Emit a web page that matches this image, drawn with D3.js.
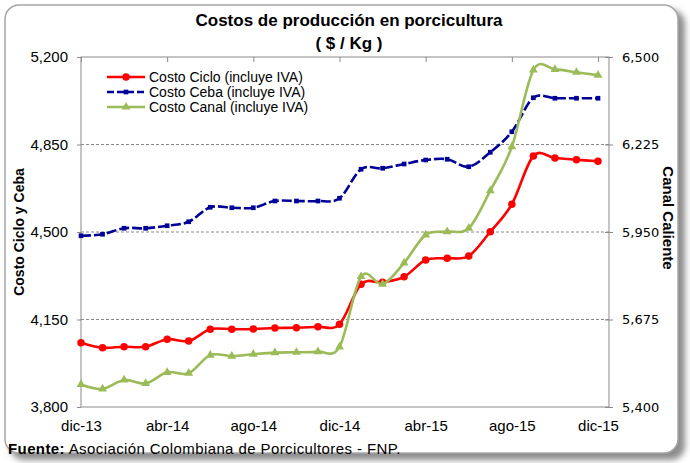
<!DOCTYPE html>
<html>
<head>
<meta charset="utf-8">
<script src="https://cdn.jsdelivr.net/npm/d3@7"></script>
<style>
  body { margin: 0; background: #fff; }
  svg { display: block; }
</style>
</head>
<body>
<svg id="chart" width="690" height="463"></svg>
<script>
// months, dic-13 .. dic-15
const meses = ["dic-13","ene-14","feb-14","mar-14","abr-14","may-14","jun-14","jul-14","ago-14","sep-14","oct-14","nov-14",
  "dic-14","ene-15","feb-15","mar-15","abr-15","may-15","jun-15","jul-15","ago-15","sep-15","oct-15","nov-15","dic-15"];
const etiquetas = ["dic-13","abr-14","ago-14","dic-14","abr-15","ago-15","dic-15"];

// left axis series
const costoCiclo = [4057,4037,4041,4041,4071,4064,4111,4111,4112,4116,4117,4121,
  4131,4291,4299,4321,4388,4395,4404,4501,4611,4804,4796,4789,4783];
const costoCeba = [4485,4491,4515,4515,4525,4541,4599,4597,4597,4624,4624,4624,
  4635,4751,4755,4772,4788,4791,4761,4819,4901,5037,5035,5035,5035];
// right axis series
const costoCanal = [5471,5457,5485,5474,5509,5506,5563,5560,5566,5571,5572,5574,
  5589,5810,5786,5853,5941,5951,5962,6080,6218,6459,6461,6452,6443];

const ticksIzq = [3800,4150,4500,4850,5200];
const ticksDer = [5400,5675,5950,6225,6500];

const svg = d3.select("#chart");

// frame with shadow
const defs = svg.append("defs");
const f = defs.append("filter").attr("id","sombra").attr("x","-10%").attr("y","-10%").attr("width","130%").attr("height","130%");
f.append("feGaussianBlur").attr("stdDeviation", 3);

svg.append("rect")
  .attr("x", 10).attr("y", 10).attr("width", 675).attr("height", 450)
  .attr("rx", 14).attr("fill", "#8c8c8c").attr("filter", "url(#sombra)");
svg.append("rect")
  .attr("x", 5).attr("y", 5).attr("width", 673).attr("height", 448)
  .attr("rx", 14).attr("fill", "#fff").attr("stroke", "#a6a6a6").attr("stroke-width", 1.5);

const plot = {left: 81, right: 609, top: 57, bottom: 407};

const x = d3.scalePoint().domain(meses).range([plot.left, 598]);
const yL = d3.scaleLinear().domain([3800, 5200]).range([plot.bottom, plot.top]);
const yR = d3.scaleLinear().domain([5400, 6500]).range([plot.bottom, plot.top]);

// gridlines
svg.append("g")
  .selectAll("line")
  .data(ticksIzq.slice(1, -1))
  .enter().append("line")
    .attr("x1", plot.left).attr("x2", plot.right)
    .attr("y1", d => yL(d)).attr("y2", d => yL(d))
    .attr("stroke", "#8a8a8a").attr("stroke-dasharray", "3,2");

// left axis
const axL = svg.append("g")
  .attr("transform", `translate(${plot.left},0)`)
  .call(d3.axisLeft(yL).tickValues(ticksIzq).tickFormat(d3.format(",")).tickSize(4).tickPadding(9));
axL.selectAll("text").style("font-family", "'Liberation Sans', Arial, sans-serif").style("font-size", "15px").attr("fill", "#000");

// right axis
const axR = svg.append("g")
  .attr("transform", `translate(${plot.right},0)`)
  .call(d3.axisRight(yR).tickValues(ticksDer).tickFormat(d3.format(",")).tickSizeInner(4).tickSizeOuter(0).tickPadding(9));
axR.selectAll(".tick line").attr("x1", -4);
axR.selectAll("text").style("font-family", "'DejaVu Sans', Verdana, sans-serif").style("font-size", "13px").attr("fill", "#000");

// bottom axis (labels only)
const axB = svg.append("g")
  .attr("transform", `translate(0,${plot.bottom})`)
  .call(d3.axisBottom(x).tickValues(etiquetas).tickSize(0).tickPadding(13));
axB.selectAll("text").style("font-family", "'Liberation Sans', Arial, sans-serif").style("font-size", "15px").attr("fill", "#000");

// top axis (tick marks)
svg.append("g")
  .attr("transform", `translate(0,${plot.top})`)
  .call(d3.axisBottom(x).tickValues(etiquetas).tickSize(5).tickFormat(""));

svg.selectAll(".domain").remove();
svg.selectAll(".tick line").attr("stroke", "#8a8a8a");

// plot border
svg.append("rect")
  .attr("x", plot.left).attr("y", plot.top)
  .attr("width", plot.right - plot.left).attr("height", plot.bottom - plot.top)
  .attr("fill", "none").attr("stroke", "#8a8a8a");

// series
const series = [
  {name: "Costo Ciclo (incluye IVA)", values: costoCiclo, y: yL, color: "#ff0000", dash: null, mark: "circle"},
  {name: "Costo Ceba (incluye IVA)", values: costoCeba, y: yL, color: "#000099", dash: "10,3", mark: "square"},
  {name: "Costo Canal (incluye IVA)", values: costoCanal, y: yR, color: "#9bbb59", dash: null, mark: "triangle"}
];

const symbols = {
  circle: d3.symbol().type(d3.symbolCircle).size(44),
  square: d3.symbol().type(d3.symbolSquare).size(22),
  triangle: d3.symbol().type(d3.symbolTriangle).size(34)
};

series.forEach(function(s) {
  const line = d3.line()
    .x((d, i) => x(meses[i]))
    .y(d => s.y(d))
    .curve(d3.curveCatmullRom.alpha(0));
  svg.append("path")
    .datum(s.values)
    .attr("d", line)
    .attr("fill", "none")
    .attr("stroke", s.color)
    .attr("stroke-width", 2.6)
    .attr("stroke-dasharray", s.dash);
  svg.append("g")
    .selectAll("path")
    .data(s.values)
    .enter().append("path")
      .attr("d", symbols[s.mark])
      .attr("transform", (d, i) => `translate(${x(meses[i])},${s.y(d)})`)
      .attr("fill", s.color);
});

// legend
const leg = svg.append("g").attr("transform", "translate(107,77)");
series.forEach(function(s, i) {
  const g = leg.append("g").attr("transform", `translate(0,${i * 15})`);
  g.append("line").attr("x1", 0).attr("x2", 38)
    .attr("stroke", s.color).attr("stroke-width", 2.6).attr("stroke-dasharray", s.dash ? "7,3" : null);
  g.append("path").attr("d", symbols[s.mark]).attr("transform", "translate(19,0)").attr("fill", s.color);
  g.append("text").attr("x", 42).attr("dy", "0.35em").text(s.name)
    .style("font-family", "'Liberation Sans', Arial, sans-serif").style("font-size", "14px");
});

// titles
const negrita = "'Liberation Sans', Arial, sans-serif";
svg.append("text").attr("x", 349).attr("y", 26).attr("text-anchor", "middle")
  .style("font-family", negrita).style("font-weight", "bold").style("font-size", "17px")
  .text("Costos de producción  en porcicultura");
svg.append("text").attr("x", 349).attr("y", 49).attr("text-anchor", "middle")
  .style("font-family", negrita).style("font-weight", "bold").style("font-size", "17px")
  .text("( $ / Kg )");

svg.append("text")
  .attr("transform", "translate(24,232) rotate(-90)")
  .attr("text-anchor", "middle")
  .style("font-family", negrita).style("font-weight", "bold").style("font-size", "14px")
  .text("Costo Ciclo  y Ceba");
svg.append("text")
  .attr("transform", "translate(663,218) rotate(90)")
  .attr("text-anchor", "middle")
  .style("font-family", negrita).style("font-weight", "bold").style("font-size", "15px")
  .text("Canal Caliente");

// footer
const foot = svg.append("text").attr("x", 8).attr("y", 454)
  .style("font-family", "'Liberation Sans', Arial, sans-serif").style("font-size", "15px")
  .style("letter-spacing", "0.4px");
foot.append("tspan").style("font-weight", "bold").text("Fuente:");
foot.append("tspan").text(" Asociación Colombiana de Porcicultores - FNP.");
</script>
</body>
</html>
